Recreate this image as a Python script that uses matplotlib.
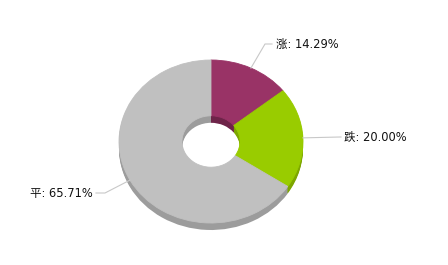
import numpy as np
import matplotlib
matplotlib.use("Agg")
import matplotlib.pyplot as plt

# data
names = ["涨", "跌", "平"]
values = [14.29, 20.00, 65.71]
top_colors = ["#993366", "#99cc00", "#c0c0c0"]
side_colors = ["#6e2449", "#7da600", "#9c9c9c"]

W, H = 448, 265
CX, CY = 211, 141.5       # centre of the top face (pixels)
RX, RY = 92, 81.5         # outer radii of the ellipse (pixels)
HOLE = 29                 # inner radius along x
DEPTH = 7
SY = RY / RX


def P(px, py):
    # pixel -> data coords
    return px, (H - py) / SY


fig = plt.figure(figsize=(W / 100, H / 100), dpi=100)
ax = fig.add_axes([0, 0, 1, 1])

# side of the donut: stacked darker layers
for d in range(DEPTH, 0, -1):
    ax.pie(values, colors=side_colors, startangle=90, counterclock=False,
           radius=RX, center=P(CX, CY + d),
           wedgeprops=dict(width=RX - HOLE, linewidth=0.6, edgecolor="none"),
           frame=True)
# top face
wedges, _ = ax.pie(values, colors=top_colors, startangle=90, counterclock=False,
                   radius=RX, center=P(CX, CY),
                   wedgeprops=dict(width=RX - HOLE, linewidth=0.6),
                   frame=True)
for w, c in zip(wedges, top_colors):
    w.set_edgecolor(c)

ax.set_aspect("auto")
ax.set_xlim(0, W)
ax.set_ylim(0, H / SY)
ax.axis("off")

# labels with leader lines
fracs = np.array(values) / sum(values)
mids = 90 - (np.cumsum(fracs) - fracs / 2) * 360
elbows = [(265, 44), (340, 137), (105, 193)]
ends = [(272, 44), (341, 137), (96, 193)]
text_pos = [(276, 44, "left"), (344, 137, "left"), (93, 193, "right")]

for name, v, m, el, en, tp in zip(names, values, mids, elbows, ends, text_pos):
    ax_px = CX + RX * np.cos(np.radians(m))
    ay_px = CY - RY * np.sin(np.radians(m))
    xs, ys = zip(P(ax_px, ay_px), P(*el), P(*en))
    ax.plot(xs, ys, color="#c8c8c8", linewidth=0.8)
    tx, ty = P(tp[0], tp[1])
    ax.text(tx, ty, f"{name}: {v:.2f}%", ha=tp[2], va="center",
            fontsize=8.3, color="#111111",
            family=["DejaVu Sans", "Noto Sans CJK SC"])

fig.savefig("out.png", dpi=100)
